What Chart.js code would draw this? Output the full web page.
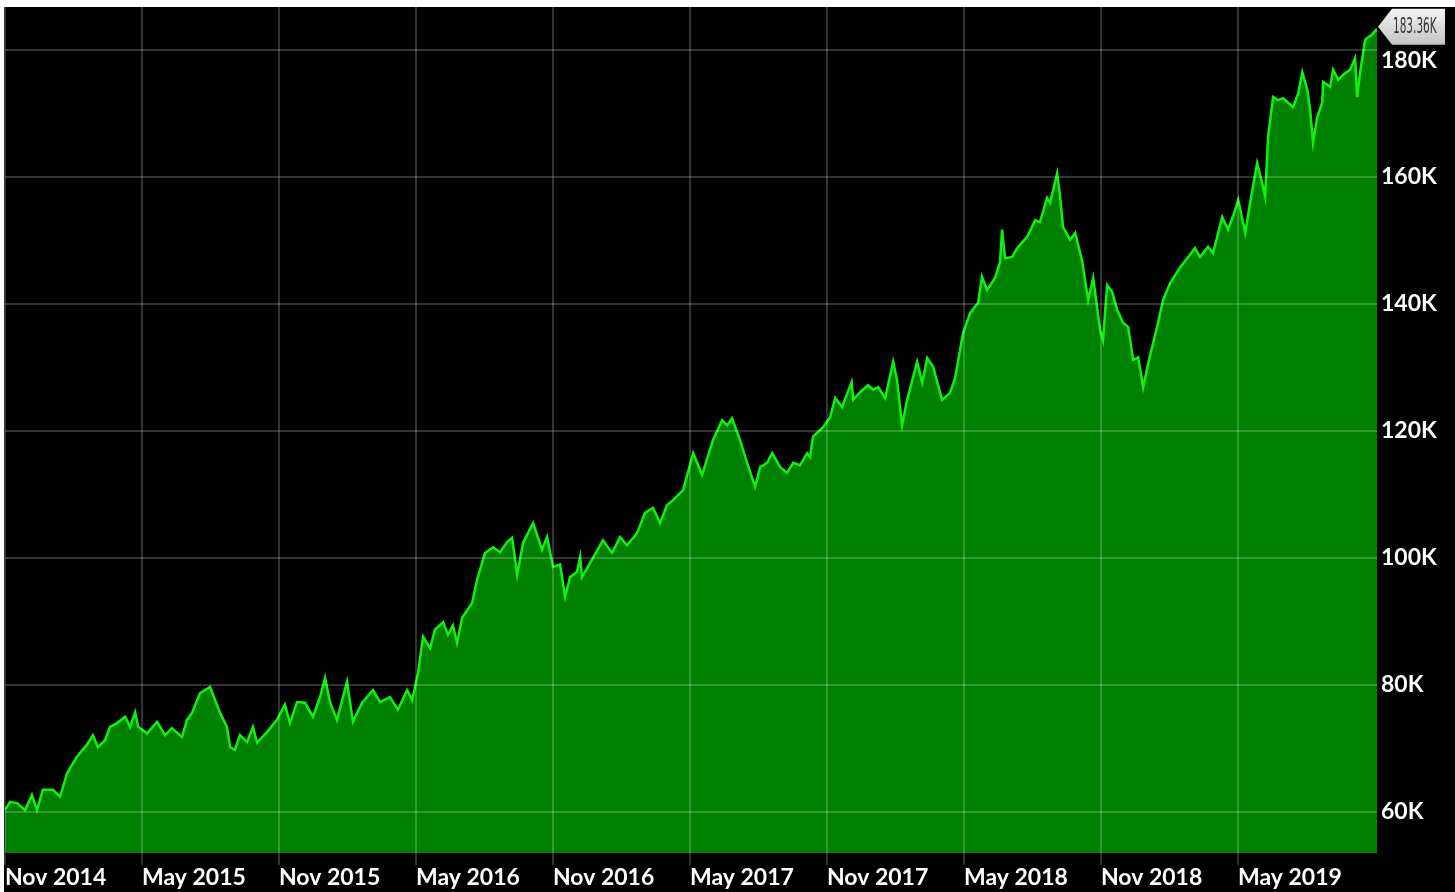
<!DOCTYPE html>
<html>
<head>
<meta charset="utf-8">
<script src="https://cdn.jsdelivr.net/npm/chart.js@4"></script>
<style>
  html, body { margin: 0; padding: 0; background: #fff; overflow: hidden; }
  #wrap { position: absolute; left: 4px; top: 7px; width: 1451px; height: 885px; background: #000; }
</style>
</head>
<body>
<div id="wrap"><canvas id="PortfolioChart"></canvas></div>
<script>
// months since Nov 2014
const months = [0,0.22,0.53,0.88,1.18,1.40,1.66,2.10,2.41,2.72,3.15,3.59,3.85,4.07,4.38,4.60,4.91,5.26,5.48,5.70,
  5.83,6.22,6.66,7.01,7.31,7.75,7.97,8.19,8.54,8.98,9.42,9.72,9.86,10.07,10.29,10.60,10.86,11.04,11.48,11.91,
  12.26,12.48,12.79,13.14,13.49,13.80,14.02,14.24,14.54,14.98,15.24,15.64,16.12,16.43,16.86,17.21,17.61,17.83,
  18.09,18.31,18.62,18.83,19.19,19.40,19.62,19.80,20.02,20.46,20.67,21.02,21.38,21.68,21.99,22.21,22.43,22.69,23.13,23.52,
  23.74,24.00,24.31,24.53,24.75,25.05,25.19,25.27,25.62,26.19,26.59,26.94,27.24,27.68,28.03,28.38,28.69,28.99,29.26,
  29.70,30.14,30.53,31.01,31.41,31.63,31.84,32.19,32.50,32.85,33.07,33.38,33.60,33.95,34.25,34.52,34.82,35.13,35.26,35.39,
  35.83,36.14,36.36,36.66,37.08,37.15,37.45,37.80,38.02,38.24,38.55,38.90,39.07,39.29,39.51,39.95,40.17,40.39,40.65,41.04,
  41.39,41.61,41.96,42.27,42.62,
  42.79,43.01,43.36,43.58,43.67,43.80,44.11,44.33,44.77,45.12,45.33,45.64,45.77,46.08,46.21,46.34,46.65,46.87,47.17,47.44,
  47.66,47.96,48.09,48.27,48.49,48.71,48.97,49.19,49.41,49.63,49.85,50.07,50.46,50.72,51.03,51.47,51.82,
  52.12,52.34,52.69,52.91,53.31,53.57,53.88,54.01,54.32,54.53,54.84,55.06,55.19,55.32,55.54,55.76,55.98,56.20,56.42,56.64,
  56.82,57.04,57.16,57.29,57.47,57.69,57.73,58.04,58.17,58.39,58.61,58.91,59.13,59.22,59.35,59.57,59.70,59.87,60.09];

// portfolio value in thousands
const values = [60.3,61.6,61.4,60.3,62.7,60.3,63.5,63.5,62.4,66.1,68.7,70.6,72.1,70.2,71.3,73.4,74.0,75.0,73.4,75.7,
  73.4,72.4,74.2,72.1,73.2,71.8,74.5,75.6,78.7,79.7,75.6,73.4,70.2,69.8,72.1,71.0,73.4,70.9,72.6,74.5,
  76.9,74.0,77.3,77.2,75.0,78.1,81.1,77.2,74.5,80.5,74.2,77.2,79.2,77.3,78.1,76.1,79.2,77.6,
  81.9,87.6,85.8,88.7,89.9,87.9,89.4,86.6,90.6,92.9,96.5,100.8,101.7,100.9,102.5,103.2,97.3,102.4,105.5,101.3,
  103.3,98.6,99.0,93.9,97.0,97.8,100.2,97.0,99.2,102.8,100.8,103.3,102.0,103.9,107.1,107.9,105.5,108.3,109.1,
  110.7,116.5,113.1,118.6,121.7,120.9,122.0,118.6,115.0,111.2,114.3,115.0,116.5,114.3,113.4,115.0,114.6,116.5,115.9,119.1,
  120.6,122.2,125.2,123.8,127.7,124.9,126.1,127.2,126.5,126.9,125.2,130.9,128.0,120.9,124.9,130.9,127.6,131.5,130.1,124.9,
  126.0,128.3,135.4,138.6,140.2,
  144.3,142.2,144.1,146.6,151.7,147.2,147.4,148.8,150.6,153.2,152.9,156.7,155.9,160.6,156.9,152.1,150.1,151.2,146.9,140.6,
  144.1,135.9,134.3,143.0,141.9,139.1,137.0,136.4,131.2,131.6,126.9,130.7,136.4,140.6,143.3,145.8,147.4,
  148.8,147.4,149.0,148.0,153.7,151.7,154.8,156.4,151.2,155.9,162.2,159.1,156.9,166.3,172.6,172.1,172.4,171.7,171.0,173.2,
  176.5,173.7,170.6,165.4,169.4,171.7,175.0,174.2,176.9,175.3,176.1,176.9,178.7,172.6,176.5,181.6,182.0,182.4,183.36];

const tickMonths = [0, 6, 12, 18, 24, 30, 36, 42, 48, 54];
const tickLabels = ['Nov 2014', 'May 2015', 'Nov 2015', 'May 2016', 'Nov 2016', 'May 2017', 'Nov 2017', 'May 2018', 'Nov 2018', 'May 2019'];
const valueTicks = [60, 80, 100, 120, 140, 160, 180];

const points = months.map((m, i) => ({ x: m, y: values[i] }));

// grey price tag at the end of the line
const lastValueTag = {
    id: 'lastValueTag',
    beforeDraw(chart) {
        // push the top value label down a bit so the tag does not cover it
        const items = chart.scales.y.getLabelItems();
        const top = items[items.length - 1];
        if (top && !top.shifted) {
            top.options.translation[1] += 11;
            top.shifted = true;
        }
    },
    afterDraw(chart) {
        const ctx = chart.ctx;
        const last = values[values.length - 1];
        const y = chart.scales.y.getPixelForValue(last) - 2;
        const x0 = chart.chartArea.right;
        ctx.save();
        const grad = ctx.createLinearGradient(0, y - 18, 0, y + 18);
        grad.addColorStop(0, '#f4f4f4');
        grad.addColorStop(1, '#c4c4c4');
        ctx.fillStyle = grad;
        ctx.beginPath();
        ctx.moveTo(x0 + 1, y);
        ctx.lineTo(x0 + 15, y - 18);
        ctx.lineTo(x0 + 68, y - 18);
        ctx.lineTo(x0 + 68, y + 18);
        ctx.lineTo(x0 + 15, y + 18);
        ctx.closePath();
        ctx.fill();
        ctx.fillStyle = '#333';
        ctx.font = '21px "DejaVu Sans"';
        ctx.textBaseline = 'middle';
        ctx.translate(x0 + 16, y);
        ctx.scale(0.5, 1);
        ctx.fillText(last.toFixed(2) + 'K', 0, 1);
        ctx.restore();
    }
};

const PortfolioChartFormat = new Chart(document.getElementById('PortfolioChart'), {
    type: 'line',
    data: {
        datasets: [{
            data: points,
            borderColor: '#0ef20e',
            borderWidth: 2.5,
            backgroundColor: '#008000',
            fill: 'start',
            pointRadius: 0,
            tension: 0
        }]
    },
    options: {
        responsive: true,
        maintainAspectRatio: false,
        animation: false,
        layout: { padding: { left: 1, top: 0, right: 0, bottom: 0 } },
        plugins: { legend: { display: false }, tooltip: { enabled: false } },
        scales: {
            x: {
                type: 'linear',
                min: 0,
                max: 60.09,
                afterBuildTicks: (scale) => { scale.ticks = tickMonths.map(v => ({ value: v })); },
                afterFit: (scale) => { scale.height = 39; scale.paddingLeft = 0; scale.paddingRight = 0; },
                grid: { color: 'rgba(255,255,255,0.2)', z: 1, drawTicks: true, tickLength: 12, lineWidth: 2 },
                border: { display: false },
                ticks: {
                    autoSkip: false,
                    maxRotation: 0,
                    align: 'start',
                    padding: -1,
                    color: '#fff',
                    font: { family: 'Lato', weight: 'bold', size: 23 },
                    callback: (v) => tickLabels[tickMonths.indexOf(v)]
                }
            },
            y: {
                position: 'right',
                min: 53.54,
                max: 186.77,
                afterBuildTicks: (scale) => { scale.ticks = valueTicks.map(v => ({ value: v })); },
                afterFit: (scale) => { scale.width = 78; scale.paddingTop = 0; scale.paddingBottom = 0; },
                grid: { color: 'rgba(255,255,255,0.2)', z: 1, drawTicks: false, lineWidth: 2 },
                border: { display: false },
                ticks: {
                    padding: 4,
                    color: '#fff',
                    font: { family: 'Lato', weight: 'bold', size: 23 },
                    callback: (v) => v + 'K'
                }
            }
        }
    },
    plugins: [lastValueTag]
});
</script>
</body>
</html>
